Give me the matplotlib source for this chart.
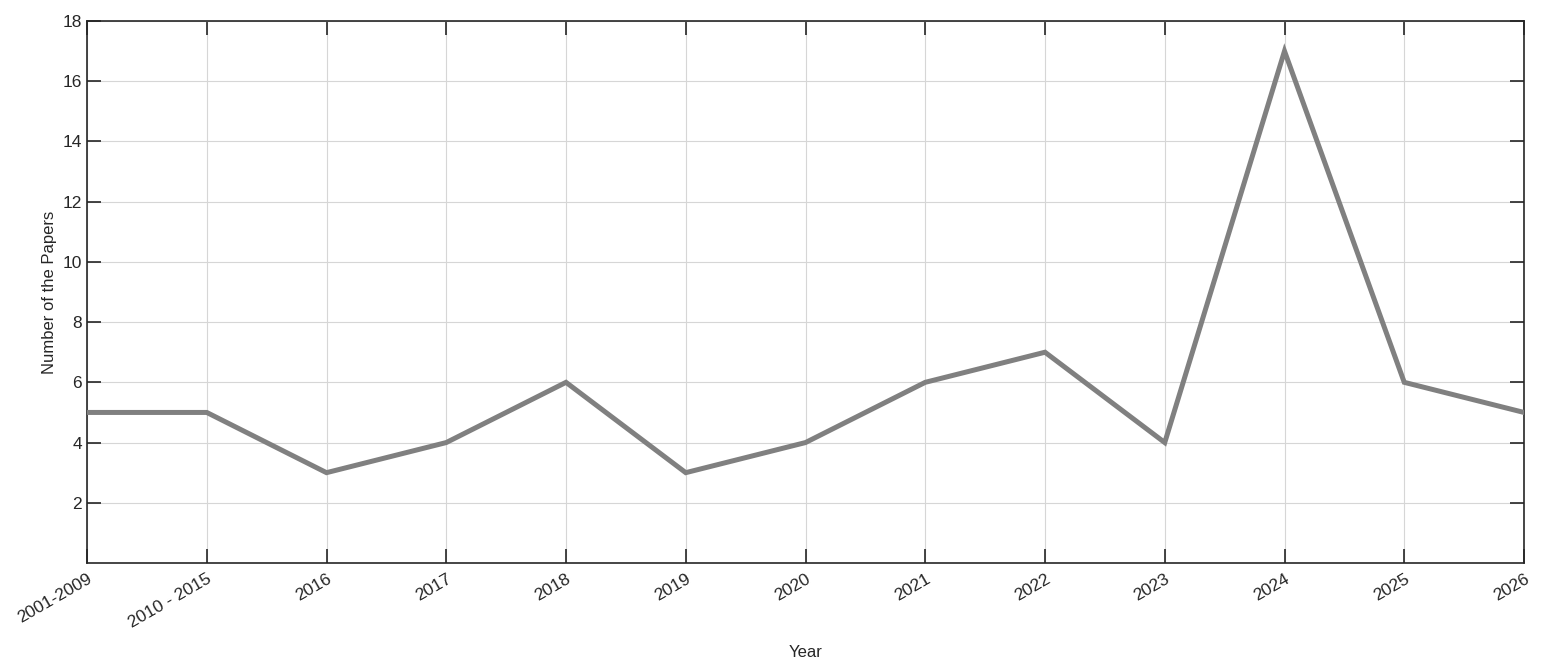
import numpy as np
import matplotlib.pyplot as plt

plt.rcParams['font.family'] = ['Liberation Sans', 'DejaVu Sans']

# data
years = ['2001-2009', '2010 - 2015', '2016', '2017', '2018', '2019', '2020',
         '2021', '2022', '2023', '2024', '2025', '2026']
papers = [5, 5, 3, 4, 6, 3, 4, 6, 7, 4, 17, 6, 5]
y_ticks = [2, 4, 6, 8, 10, 12, 14, 16, 18]

x = np.arange(len(years))

fig = plt.figure(figsize=(15.47, 6.69), dpi=100)
ax = fig.add_axes([87 / 1547, 1 - 563 / 669, (1524 - 87) / 1547, (563 - 21) / 669])

ax.plot(x, papers, color='#808080', linewidth=3.6, solid_joinstyle='miter', zorder=3)

ax.set_xlim(0, len(years) - 1)
ax.set_ylim(0, 18)
ax.set_xticks(x)
ax.set_xticklabels(years, rotation=30, ha='right', rotation_mode='anchor', fontsize=12.5)
ax.set_yticks(y_ticks)
ax.set_yticklabels([str(t) for t in y_ticks], fontsize=12.5)

ax.grid(True, color='#d6d6d6', linewidth=0.8)
ax.tick_params(direction='in', length=10, width=1.2, top=True, right=True,
               colors='#262626', labelcolor='#262626')
ax.tick_params(axis='x', pad=6)
for s in ax.spines.values():
    s.set_color('#262626')
    s.set_linewidth(1.2)

ax.set_xlabel('Year', fontsize=12, color='#262626', labelpad=10)
ax.set_ylabel('Number of the Papers', fontsize=12, color='#262626', labelpad=4)

fig.savefig('out.png', dpi=100)
